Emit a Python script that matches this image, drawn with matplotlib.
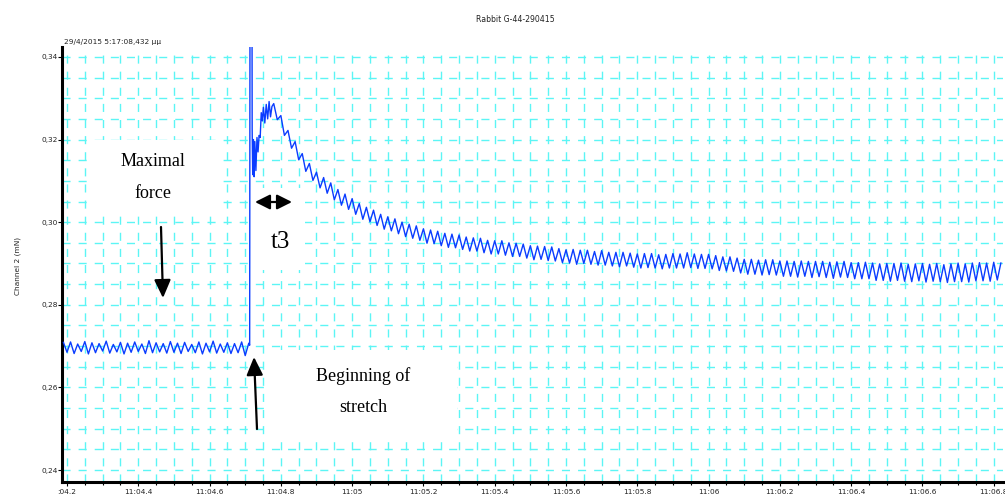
import numpy as np
import matplotlib.pyplot as plt
from matplotlib.patches import Rectangle
from matplotlib.ticker import MultipleLocator, FixedLocator, FixedFormatter

# force trace, channel 2
# time in s after 11:00, force in units of 1e-4 mN
sample_step = 0.01
baseline_start = 4.19
baseline = [
    2709, 2685, 2710, 2682, 2705, 2687, 2711, 2681, 2708, 2684,
    2706, 2688, 2712, 2683, 2704, 2686, 2709, 2681, 2707, 2685,
    2710, 2687, 2705, 2682, 2713, 2684, 2708, 2686, 2706, 2683,
    2711, 2685, 2707, 2682, 2709, 2687, 2704, 2684, 2710, 2681,
    2707, 2686, 2712, 2683, 2705, 2685, 2708, 2682, 2706, 2684,
    2710, 2677, 2707,
]

# stretch artefact + rise to the peak (irregular samples)
stretch_t = [4.7125, 4.7135, 4.7190, 4.7195, 4.721, 4.723, 4.725, 4.727,
             4.730, 4.733, 4.736, 4.739, 4.742, 4.745, 4.748, 4.751,
             4.755, 4.759, 4.763, 4.767, 4.771, 4.775]
stretch_v = [2702, 3600, 3600, 3225, 3115, 3200, 3110, 3195,
             3125, 3205, 3170, 3210, 3205, 3265, 3245, 3278,
             3240, 3285, 3250, 3292, 3255, 3280]

decay_start = 4.78
decay = [
    3287, 3248, 3258, 3210, 3222, 3179, 3195, 3151, 3166, 3123,
    3142, 3101, 3121, 3083, 3108, 3070, 3095, 3054, 3079, 3041,
    3068, 3031, 3057, 3019, 3045, 3007, 3036, 3001, 3029, 2992,
    3019, 2983, 3013, 2979, 3008, 2972, 3000, 2965, 2995, 2961,
    2991, 2956, 2984, 2949, 2981, 2948, 2978, 2943, 2973, 2939,
    2971, 2938, 2969, 2934, 2964, 2930, 2962, 2930, 2961, 2926,
    2956, 2923, 2955, 2923, 2955, 2920, 2950, 2917, 2949, 2917,
    2947, 2913, 2943, 2909, 2942, 2910, 2941, 2907, 2940, 2906,
    2936, 2902, 2933, 2901, 2934, 2898, 2932, 2900, 2932, 2898,
    2929, 2896, 2931, 2896, 2927, 2894, 2927, 2892, 2927, 2894,
    2925, 2891, 2923, 2889, 2924, 2890, 2924, 2889, 2921, 2887,
    2922, 2889, 2924, 2889, 2923, 2889, 2926, 2890, 2923, 2888,
    2922, 2888, 2922, 2887, 2919, 2883, 2916, 2882, 2916, 2881,
    2913, 2877, 2910, 2874, 2910, 2874, 2908, 2872, 2909, 2873,
    2909, 2872, 2906, 2869, 2906, 2869, 2905, 2867, 2906, 2869,
    2905, 2866, 2905, 2868, 2905, 2866, 2903, 2864, 2904, 2867,
    2905, 2866, 2902, 2863, 2902, 2863, 2903, 2863, 2901, 2859,
    2899, 2859, 2900, 2857, 2900, 2859, 2901, 2857, 2898, 2856,
    2899, 2858, 2900, 2855, 2898, 2857, 2900, 2856, 2897, 2854,
    2899, 2856, 2901, 2856, 2899, 2855, 2901, 2858, 2902, 2858,
    2901, 2857, 2903, 2860, 2901,
]

x_ticks = [4.2, 4.4, 4.6, 4.8, 5.0, 5.2, 5.4, 5.6, 5.8, 6.0, 6.2, 6.4, 6.6, 6.8]
x_tick_labels = [":04.2", "11:04.4", "11:04.6", "11:04.8", "11:05", "11:05.2",
                 "11:05.4", "11:05.6", "11:05.8", "11:06", "11:06.2",
                 "11:06.4", "11:06.6", "11:06.8"]
y_ticks = [0.24, 0.26, 0.28, 0.30, 0.32, 0.34]
y_tick_labels = ["0,24", "0,26", "0,28", "0,30", "0,32", "0,34"]

W, H = 1005, 495


def fpos(px, py):
    # pixel position (top-left origin) -> figure fraction
    return px / W, 1 - py / H


t_base = baseline_start + sample_step * np.arange(len(baseline))
t_decay = decay_start + sample_step * np.arange(len(decay))
t = np.concatenate([t_base, stretch_t, t_decay])
v = np.concatenate([baseline, stretch_v, decay]) * 1e-4

fig = plt.figure(figsize=(W / 100, H / 100), dpi=100)
ax = fig.add_axes([62 / W, 13 / H, (1003 - 62) / W, (482 - 47) / H])

ax.plot(t, v, color="#0a3cff", lw=1.0, zorder=3)

ax.set_xlim(4.186, 6.826)
ax.set_ylim(0.2371, 0.3424)

ax.xaxis.set_major_locator(FixedLocator(x_ticks))
ax.xaxis.set_major_formatter(FixedFormatter(x_tick_labels))
ax.xaxis.set_minor_locator(MultipleLocator(0.05))
ax.yaxis.set_major_locator(FixedLocator(y_ticks))
ax.yaxis.set_major_formatter(FixedFormatter(y_tick_labels))
ax.yaxis.set_minor_locator(MultipleLocator(0.005))

# dashed cyan grid: ~8 px dashes / 8 px gaps, drifting against the cells
ax.set_axisbelow(True)
ax.grid(which="both", color="#5cf5f5", lw=1.0, ls=(0, (5.8, 5.8)))

for s in ["top", "right"]:
    ax.spines[s].set_visible(False)
for s in ["left", "bottom"]:
    ax.spines[s].set_linewidth(2.2)

ax.tick_params(axis="x", which="major", length=3, width=0.8, pad=2,
               labelsize=5.3, labelcolor="#222222")
ax.tick_params(axis="x", which="minor", length=2, width=0.8)
ax.tick_params(axis="y", which="major", length=3, width=0.8, pad=0,
               labelsize=5.3, labelcolor="#222222")
ax.tick_params(axis="y", which="minor", length=0)

# header texts
fig.text(*fpos(515, 20), "Rabbit G-44-290415", ha="center", va="center",
         fontsize=5.6, color="#222222")
fig.text(*fpos(64, 42), "29/4/2015 5:17:08,432 μμ", ha="left", va="center",
         fontsize=5.3, color="#222222")
fig.text(*fpos(18, 266), "Channel 2 (mN)", rotation=90, ha="center",
         va="center", fontsize=5.3, color="#222222")

# white boxes behind the annotation texts
for x0, y0, x1, y1 in [(87, 140, 223, 215), (253, 188, 305, 270),
                       (265, 350, 457, 440)]:
    ax.add_patch(Rectangle(fpos(x0, y1), (x1 - x0) / W, (y1 - y0) / H,
                           transform=fig.transFigure, facecolor="white",
                           edgecolor="none", zorder=1))

serif = "Liberation Serif"
fig.text(*fpos(153, 161), "Maximal", ha="center", va="center",
         fontsize=13, family=serif)
fig.text(*fpos(153, 193), "force", ha="center", va="center",
         fontsize=13, family=serif)
fig.text(*fpos(280, 242), "t3", ha="center", va="center",
         fontsize=18, family=serif)
fig.text(*fpos(363, 376), "Beginning of", ha="center", va="center",
         fontsize=13, family=serif)
fig.text(*fpos(363, 408), "stretch", ha="center", va="center",
         fontsize=13, family=serif)

arrow = dict(arrowstyle="-|>,head_length=1.1,head_width=0.5", lw=1.6,
             color="black", shrinkA=0, shrinkB=0)
ax.annotate("", xy=(163, H - 298), xytext=(161, H - 227),
            xycoords="figure pixels", textcoords="figure pixels",
            arrowprops=arrow, zorder=4)
ax.annotate("", xy=(254, H - 357), xytext=(257, H - 429),
            xycoords="figure pixels", textcoords="figure pixels",
            arrowprops=arrow, zorder=4)
ax.annotate("", xy=(292, H - 202), xytext=(255, H - 202),
            xycoords="figure pixels", textcoords="figure pixels",
            arrowprops=dict(arrowstyle="<|-|>,head_length=0.9,head_width=0.45",
                            lw=1.6, color="black", shrinkA=0, shrinkB=0),
            zorder=4)

fig.savefig("out.png", dpi=100)
